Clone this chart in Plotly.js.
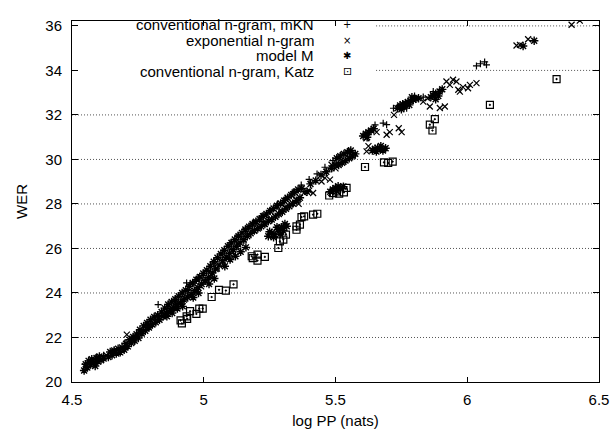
<!DOCTYPE html>
<html><head><meta charset="utf-8">
<script src="https://cdn.plot.ly/plotly-3.0.1.min.js"></script>
<style>html,body{margin:0;padding:0;background:#fff}#chart{width:614px;height:432px}</style>
</head><body><div id="chart"></div>
<script>
// ---- data ----
const seriesNames = ["conventional n-gram, mKN", "exponential n-gram", "model M", "conventional n-gram, Katz"];
const xTicks = [4.5, 5, 5.5, 6, 6.5];
const yTicks = [20, 22, 24, 26, 28, 30, 32, 34, 36];

const mknX = [4.56,4.59,4.62,4.66,4.70,4.74,4.78,4.827,4.86,4.89,4.935,4.948,4.960,4.94,4.98,5.011,5.04,5.07,5.10,5.13,5.16,5.188,5.226,5.19,5.22,5.25,5.28,5.31,5.34,5.37,5.40,5.43,5.46,5.49,5.52,5.55,5.65,5.681,5.694,5.72,5.77,5.80,5.833,5.871,6.035,6.050,6.073,6.066];
const mknY = [20.85,21.05,21.20,21.40,21.75,22.05,22.45,23.48,23.30,23.60,24.45,24.38,24.45,24.15,24.70,24.97,25.40,25.80,26.25,26.60,26.90,27.14,27.22,27.15,27.45,27.70,28.00,28.25,28.55,28.85,29.10,29.35,29.65,29.95,30.20,30.40,31.55,31.63,31.56,32.30,32.30,32.85,32.80,33.05,34.20,34.30,34.25,34.38];

const expX = [4.550,4.575,4.600,4.630,4.660,4.708,4.730,4.760,4.790,4.820,4.850,4.870,4.890,4.910,4.930,4.950,4.975,4.990,5.010,5.030,5.050,5.070,5.090,5.110,5.130,5.150,5.170,5.190,5.210,5.230,5.250,5.270,5.290,5.310,5.330,5.350,5.360,5.380,5.400,5.415,5.447,5.460,5.479,5.485,5.500,5.530,5.560,5.618,5.625,5.617,5.656,5.694,5.706,5.740,5.751,5.722,5.833,5.858,5.896,5.915,5.850,5.921,5.934,5.946,5.959,5.966,5.984,6.010,6.035,6.003,5.972,6.187,6.200,6.231,6.396,6.427];
const expY = [20.70,20.90,21.10,21.20,21.35,22.13,21.90,22.20,22.55,22.80,23.05,23.15,23.30,23.60,23.75,23.85,24.10,24.30,24.60,24.80,25.10,25.40,25.60,25.85,26.20,26.40,26.60,26.80,26.95,27.10,27.30,27.45,27.70,27.85,28.00,28.20,28.00,28.50,28.60,28.49,29.01,29.17,29.09,29.76,29.60,29.90,30.20,30.36,30.60,30.95,31.23,31.11,31.23,31.40,31.23,32.00,32.60,32.38,32.31,32.38,32.75,33.50,33.35,33.58,33.50,33.13,33.25,33.35,33.43,33.20,33.05,35.12,35.15,35.40,36.05,36.24];

const mX = [4.546,4.552,4.558,4.563,4.570,4.575,4.581,4.588,4.593,4.598,4.604,4.610,4.620,4.638,4.645,4.652,4.660,4.668,4.675,4.683,4.690,4.698,
  4.705,4.712,4.718,4.725,4.732,4.738,4.745,4.752,4.758,4.765,4.772,4.778,4.785,4.792,4.798,4.805,4.812,4.818,4.825,4.832,
  4.840,4.846,4.852,4.858,4.865,4.872,4.878,4.885,4.892,4.898,4.905,4.912,4.918,4.925,4.932,4.938,4.945,4.952,4.958,4.965,
  4.972,4.978,4.985,4.992,4.998,5.005,5.012,5.018,5.025,5.032,5.038,5.045,5.052,5.058,5.065,5.072,5.078,5.085,5.092,5.098,
  5.105,5.112,5.118,5.125,5.132,5.138,5.145,5.152,5.158,5.165,5.172,5.178,5.185,5.192,5.198,5.205,5.212,5.218,5.225,5.232,
  5.238,5.245,5.252,5.258,5.265,5.272,5.278,5.285,5.292,5.298,5.305,5.312,5.318,5.325,5.332,5.338,5.345,5.352,5.358,5.365,
  5.372,5.392,5.405,5.425,5.445,5.465,5.485,5.498,
  5.505,5.512,5.518,5.525,5.532,5.538,5.545,5.552,5.558,5.565,5.575,
  4.860,4.880,4.900,4.920,4.960,4.980,5.020,5.040,5.080,5.100,5.120,5.140,5.160,5.245,5.258,5.270,5.282,5.295,5.308,
  5.250,5.265,5.278,5.290,5.302,5.315,
  5.480,5.490,5.500,5.510,5.520,5.505,5.530,
  5.640,5.650,5.660,5.670,5.680,5.655,5.672,5.690,
  5.605,5.615,5.625,5.635,5.645,5.620,
  5.735,5.745,5.755,5.765,5.775,5.785,5.795,5.805,5.760,5.780,5.750,5.790,5.815,
  5.862,5.870,5.880,5.895,5.905,5.880,5.890,
  6.212,6.254];
const mY = [20.52,20.80,20.65,20.95,20.78,21.02,20.88,20.72,21.08,20.92,21.15,20.98,21.05,21.12,21.35,21.20,21.42,21.28,21.50,21.33,21.55,21.45,
  21.72,21.60,21.90,21.75,22.02,21.85,22.15,21.98,22.35,22.18,22.52,22.30,22.65,22.45,22.80,22.58,22.92,22.68,23.00,22.80,
  23.15,22.95,23.32,23.10,23.48,23.22,23.60,23.35,23.72,23.48,23.85,23.55,24.00,23.70,24.12,23.82,24.30,23.95,24.45,24.10,
  24.60,24.25,24.72,24.40,24.88,24.55,25.02,24.70,25.20,24.90,25.40,25.08,25.58,25.25,25.75,25.45,25.92,25.60,26.10,25.78,
  26.25,25.95,26.40,26.10,26.55,26.25,26.70,26.40,26.85,26.55,26.98,26.68,27.10,26.80,27.20,26.90,27.32,27.00,27.45,27.10,
  27.55,27.22,27.68,27.30,27.80,27.42,27.92,27.55,28.02,27.65,28.15,27.78,28.28,27.90,28.40,28.02,28.52,28.15,28.65,28.28,
  28.70,28.55,28.90,29.05,29.30,29.45,29.60,29.75,
  30.05,29.75,30.15,29.85,30.25,29.95,30.32,30.05,30.40,30.15,30.25,
  22.95,23.10,23.30,23.40,23.80,24.00,24.40,24.65,25.20,25.50,25.65,25.85,26.05,26.55,26.70,26.62,26.85,26.95,27.10,
  26.75,26.50,26.95,26.65,26.80,27.00,
  28.55,28.65,28.72,28.80,28.70,28.58,28.78,
  30.40,30.48,30.52,30.45,30.40,30.35,30.60,30.50,
  31.05,31.15,31.22,31.30,31.38,31.00,
  32.30,32.42,32.48,32.52,32.58,32.62,32.68,32.72,32.35,32.45,32.25,32.80,32.75,
  32.80,32.88,32.95,33.05,33.15,32.70,32.85,
  35.10,35.33];

const katzX = [4.912,4.917,4.935,4.937,4.948,4.972,4.983,4.996,5.030,5.058,5.084,5.113,5.186,5.204,5.204,5.182,5.232,5.283,5.289,5.302,5.312,5.352,5.352,5.365,5.371,5.381,5.415,5.431,5.476,5.491,5.504,5.514,5.532,5.542,5.612,5.684,5.700,5.717,5.858,5.877,5.868,6.086,6.339];
const katzY = [22.77,22.63,22.95,22.84,23.18,23.06,23.30,23.30,23.82,24.14,24.11,24.39,25.57,25.72,25.45,25.65,25.62,26.02,26.32,26.40,26.62,26.84,26.99,27.07,27.41,27.44,27.52,27.56,28.38,28.49,28.56,28.46,28.52,28.72,29.66,29.87,29.84,29.90,31.56,31.81,31.30,32.45,33.61];

// ---- drawing ----
const FONT = "Liberation Sans, Arial, Helvetica, sans-serif";
function tr(x, y, sym, size, lw, name) {
  return {x: x, y: y, name: name, type: "scatter", mode: "markers", cliponaxis: true,
    marker: {symbol: sym, size: size, color: "#000", line: {color: "#000", width: lw}}};
}
const traces = [
  tr(mknX, mknY, "cross-thin-open", 5, 1.2, seriesNames[0]),
  tr(expX, expY, "x-thin-open", 6, 1.2, seriesNames[1]),
  tr(mX, mY, "asterisk-open", 7, 1.4, seriesNames[2]),
  tr(katzX, katzY, "square-open-dot", 7, 1.2, seriesNames[3])
];
const legendSyms = ["+", "×", "✱", "⊡"];
const rowY = [0.989, 0.946, 0.904, 0.861];
const annotations = [];
seriesNames.forEach((n, i) => {
  annotations.push({xref: "paper", yref: "paper", x: 0.461, y: rowY[i], xanchor: "right", yanchor: "middle",
    text: n, showarrow: false, borderpad: 0, font: {family: FONT, size: 15, color: "#000"}});
  annotations.push({xref: "paper", yref: "paper", x: 0.522, y: rowY[i], xanchor: "center", yanchor: "middle",
    text: legendSyms[i], showarrow: false, borderpad: 0, font: {family: "DejaVu Sans", size: i === 3 ? 11 : 10, color: "#000"}});
});
// dotted horizontal grid lines (the two top ones start right of the key, as in the reference)
const gridShapes = yTicks.filter(v => v > yTicks[0]).map(v => ({
  type: "line", xref: "paper", yref: "y", x0: v >= 34 ? 0.577 : 0, x1: 1, y0: v, y1: v,
  line: {color: "#555", width: 1, dash: "1px,2px"}, layer: "below"}));
const layout = {
  width: 614, height: 432,
  margin: {l: 72, r: 15, t: 21, b: 50, pad: 0},
  paper_bgcolor: "#fff", plot_bgcolor: "#fff",
  showlegend: false,
  font: {family: FONT, size: 15, color: "#000"},
  xaxis: {range: [4.5, 6.5], tickvals: xTicks, ticktext: xTicks.map(String),
    ticks: "inside", ticklen: 5, tickcolor: "#000", showgrid: false, zeroline: false,
    showline: true, linecolor: "#000", linewidth: 1, mirror: "ticks",
    title: {text: "log PP (nats)", font: {family: FONT, size: 15}, standoff: 8},
    tickfont: {family: FONT, size: 15}, ticklabelstandoff: 4},
  yaxis: {range: [20, 36.22], tickvals: yTicks, ticktext: yTicks.map(String),
    ticks: "inside", ticklen: 6, tickcolor: "#000", showgrid: false,
    zeroline: false, showline: true, linecolor: "#000", linewidth: 1, mirror: "ticks",
    title: {text: "WER", font: {family: FONT, size: 15}, standoff: 14},
    tickfont: {family: FONT, size: 15}, ticklabelstandoff: 6},
  shapes: gridShapes,
  annotations: annotations
};
Plotly.newPlot("chart", traces, layout, {staticPlot: true, displayModeBar: false});
</script>
</body></html>
